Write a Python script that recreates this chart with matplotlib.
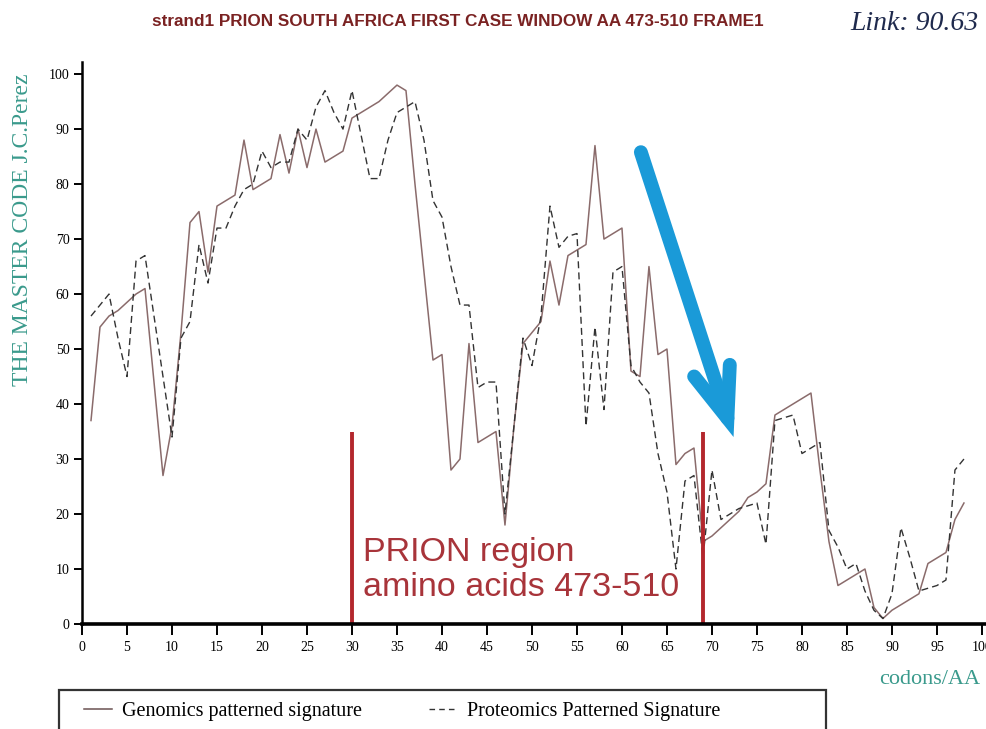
import numpy as np
import matplotlib
matplotlib.use("Agg")
import matplotlib.pyplot as plt
from matplotlib.patches import Rectangle, FancyArrowPatch
from matplotlib.lines import Line2D

# datos (codones 1..98)
codons = np.arange(1, 99)
genomics = [37, 54, 56, 57, 58.5, 60, 61, 44, 27, 36,
            53, 73, 75, 64, 76, 77, 78, 88, 79, 80,
            81, 89, 82, 90, 83, 90, 84, 85, 86, 92,
            93, 94, 95, 96.5, 98, 97, 80, 64, 48, 49,
            28, 30, 51, 33, 34, 35, 18, 36, 51, 53,
            55, 66, 58, 67, 68, 69, 87, 70, 71, 72,
            46, 45, 65, 49, 50, 29, 31, 32, 15, 16,
            17.5, 19, 20.5, 23, 24, 25.5, 38, 39, 40, 41,
            42, 28, 15, 7, 8, 9, 10, 3, 1, 2.5,
            3.5, 4.5, 5.5, 11, 12, 13, 19, 22]
proteomics = [56, 58, 60, 52, 45, 66, 67, 56, 45, 34,
              52, 55, 69, 62, 72, 72, 76, 79, 80, 86,
              83, 84, 84, 90, 88, 94, 97, 93, 90, 97,
              89, 81, 81, 88, 93, 94, 95, 88, 77, 74,
              65, 58, 58, 43, 44, 44, 20, 36, 52, 47,
              56, 76, 68.5, 70.5, 71, 36, 54, 39, 64, 65,
              47, 44, 42, 31, 24, 10, 26, 27, 12, 28,
              19, 20, 21, 21.5, 22, 14.5, 37, 37.5, 38, 31,
              32, 33, 17, 14, 10, 11, 6, 2.5, 1, 5.5,
              17.5, 12, 6, 6.5, 7, 8, 28, 30]
region_bounds = [30, 69]
region_top = 35
arrow_start = (62.1, 85.8)
arrow_end = (72.4, 34.0)

serif = "Liberation Serif"
fig = plt.figure(figsize=(9.86, 7.29), dpi=100)
ax = fig.add_axes([82 / 986, 105 / 729, 904 / 986, 562 / 729])

ax.plot(codons, genomics, color="#8a6b6b", lw=1.1, label="Genomics patterned signature")
ax.plot(codons, proteomics, color="#333333", lw=1.0, dashes=(5, 3),
        label="Proteomics Patterned Signature")

# lineas rojas de la region PRION
for xb in region_bounds:
    ax.plot([xb, xb], [0, region_top], color="#b3272d", lw=2.8, solid_capstyle="butt")
ax.text(31.2, 9.8, "PRION region\namino acids 473-510", color="#a8343a",
        fontsize=24.5, family="Liberation Sans", ha="left", va="center", linespacing=1.15)

# flecha azul
arr = FancyArrowPatch(arrow_start, arrow_end, arrowstyle="->,head_length=0.36,head_width=0.135",
                      mutation_scale=100, color="#1a9ad8", lw=10, capstyle="round",
                      joinstyle="miter", shrinkA=0, shrinkB=0)
ax.add_patch(arr)

ax.set_xlim(0, 100.45)
ax.set_ylim(0, 102.2)
ax.set_xticks(np.arange(0, 101, 5))
ax.set_yticks(np.arange(0, 101, 10))
for s in ["top", "right"]:
    ax.spines[s].set_visible(False)
ax.spines["left"].set_linewidth(1.8)
ax.spines["bottom"].set_linewidth(2.6)
ax.tick_params(axis="x", length=8, width=1.4, pad=4, labelsize=10)
ax.tick_params(axis="y", length=6, width=1.4, pad=3, labelsize=10)
for lab in ax.get_xticklabels() + ax.get_yticklabels():
    lab.set_family(serif)

fig.text(23 / 986, (729 - 230) / 729, "THE MASTER CODE J.C.Perez", rotation=90,
         color="#3a9a8c", family=serif, fontsize=17, ha="center", va="center")
fig.text(930 / 986, (729 - 680) / 729, "codons/AA", color="#3a9a8c", family=serif,
         fontsize=16, ha="center", va="center")

fig.text(458 / 986, (729 - 21) / 729, "strand1 PRION SOUTH AFRICA FIRST CASE WINDOW AA 473-510 FRAME1",
         color="#7a2222", family="Liberation Sans", fontweight="bold", fontsize=12.3,
         ha="center", va="center")
fig.text(914 / 986, (729 - 23) / 729, "Link: 90.63", color="#1f2a4d", family=serif,
         style="italic", fontsize=20, ha="center", va="center")

# caja de la leyenda (cortada abajo)
fig.patches.append(Rectangle((59 / 986, -0.05), 767 / 986, (729 - 690) / 729 + 0.05,
                             transform=fig.transFigure, fill=False, ec="#333333", lw=1.6))
handles = [Line2D([], [], color="#6b5252", lw=1.1),
           Line2D([], [], color="#333333", lw=1.0, dashes=(4, 3))]
fig.legend(handles, ["Genomics patterned signature", "Proteomics Patterned Signature"],
           loc="center left", bbox_to_anchor=(66 / 986, (729 - 711) / 729), ncol=2,
           frameon=False, columnspacing=3.3, handlelength=1.4, handletextpad=0.5,
           prop={"family": serif, "size": 14.5})

fig.savefig("out.png", dpi=100)
